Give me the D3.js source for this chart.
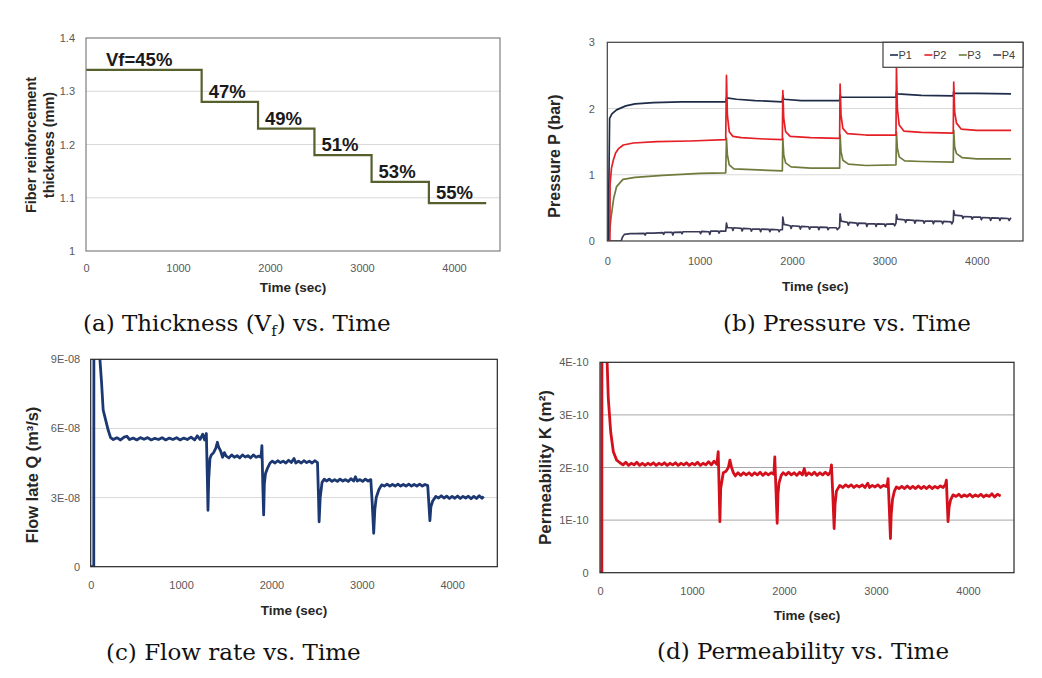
<!DOCTYPE html>
<html><head><meta charset="utf-8">
<script src="https://cdn.jsdelivr.net/npm/d3@7"></script>
<style>
body{margin:0;background:#fff}
svg{display:block}
</style>
</head><body>
<svg id="chart" width="1042" height="678"></svg>
<script>
// ---------------- DATA ----------------
const timeTicks = [0, 1000, 2000, 3000, 4000];

// (a) thickness steps
const stepStart = [0, 1257, 1870, 2483, 3104, 3727];
const stepEnd = 4350;
const thickness = [1.34, 1.28, 1.23, 1.18, 1.13, 1.09];
const vfLabels = ["Vf=45%", "47%", "49%", "51%", "53%", "55%"];
const thickTicks = [1, 1.1, 1.2, 1.3, 1.4];
const thickTickLabels = ["1", "1.1", "1.2", "1.3", "1.4"];

// (b) pressure (bar): [time, value]
const pressureNames = ["P1", "P2", "P3", "P4"];
const p1 = [[0,0],[10,0],[25,1.85],[50,1.92],[100,1.98],[200,2.04],[300,2.07],[500,2.09],[800,2.1],[1000,2.1],[1282,2.1],[1290,2.16],[1400,2.14],[1600,2.12],[1895,2.1],[1900,2.2],[1910,2.14],[2100,2.12],[2515,2.12],[2520,2.2],[2530,2.17],[2800,2.17],[3125,2.17],[3130,2.25],[3140,2.22],[3400,2.2],[3745,2.19],[3750,2.26],[3760,2.23],[4000,2.23],[4370,2.22]];
const p2 = [[0,0],[28,0],[30,0.85],[45,1.1],[65,1.22],[90,1.33],[119,1.39],[173,1.45],[282,1.48],[535,1.5],[900,1.51],[1282,1.53],[1290,2.5],[1300,1.9],[1320,1.65],[1360,1.58],[1450,1.56],[1700,1.54],[1895,1.53],[1900,2.27],[1910,1.85],[1930,1.65],[1980,1.58],[2200,1.56],[2515,1.55],[2520,2.37],[2530,1.9],[2550,1.7],[2600,1.62],[2800,1.6],[3125,1.6],[3130,2.62],[3140,2.0],[3160,1.75],[3210,1.66],[3400,1.64],[3745,1.63],[3750,2.4],[3760,1.95],[3780,1.78],[3830,1.69],[4000,1.67],[4370,1.67]];
const p3 = [[0,0],[15,0],[40,0.35],[70,0.65],[100,0.82],[170,0.93],[300,0.96],[600,0.99],[1000,1.02],[1282,1.03],[1290,1.55],[1300,1.3],[1320,1.15],[1370,1.09],[1500,1.08],[1895,1.06],[1900,1.55],[1910,1.3],[1930,1.18],[1990,1.12],[2200,1.1],[2515,1.1],[2520,1.6],[2530,1.35],[2550,1.22],[2610,1.16],[2800,1.14],[3125,1.15],[3130,1.64],[3140,1.4],[3160,1.27],[3220,1.21],[3400,1.2],[3745,1.19],[3750,1.67],[3760,1.42],[3780,1.32],[3840,1.26],[4000,1.24],[4370,1.24]];
const p4 = [[0,0],[150,0],[165,0.06],[185,0.1],[250,0.11],[300,0.11],[400,0.115],[410,0.09],[420,0.12],[500,0.12],[600,0.125],[610,0.1],[620,0.13],[700,0.13],[710,0.09],[720,0.13],[800,0.135],[810,0.11],[820,0.14],[900,0.14],[1000,0.14],[1010,0.11],[1020,0.145],[1100,0.14],[1110,0.1],[1120,0.15],[1200,0.15],[1210,0.12],[1220,0.15],[1282,0.15],[1290,0.27],[1300,0.2],[1350,0.2],[1360,0.16],[1370,0.2],[1450,0.19],[1460,0.15],[1470,0.19],[1550,0.185],[1560,0.15],[1570,0.18],[1650,0.18],[1660,0.14],[1670,0.18],[1750,0.175],[1760,0.14],[1770,0.175],[1850,0.17],[1860,0.14],[1870,0.17],[1895,0.17],[1900,0.36],[1912,0.25],[1980,0.23],[1990,0.19],[2000,0.23],[2080,0.22],[2090,0.18],[2100,0.22],[2180,0.215],[2190,0.18],[2200,0.21],[2280,0.21],[2290,0.17],[2300,0.21],[2380,0.205],[2390,0.17],[2400,0.2],[2480,0.2],[2490,0.17],[2515,0.21],[2520,0.41],[2532,0.3],[2600,0.28],[2610,0.24],[2620,0.28],[2700,0.27],[2710,0.23],[2720,0.27],[2800,0.265],[2810,0.22],[2820,0.26],[2900,0.26],[2910,0.22],[2920,0.26],[3000,0.255],[3010,0.22],[3020,0.255],[3100,0.26],[3110,0.23],[3125,0.27],[3130,0.4],[3142,0.33],[3220,0.32],[3230,0.28],[3240,0.32],[3320,0.31],[3330,0.27],[3340,0.31],[3420,0.305],[3430,0.27],[3440,0.3],[3520,0.3],[3530,0.26],[3540,0.3],[3620,0.295],[3630,0.26],[3640,0.295],[3720,0.29],[3730,0.26],[3745,0.3],[3750,0.46],[3760,0.39],[3840,0.38],[3850,0.34],[3860,0.37],[3940,0.365],[3950,0.33],[3960,0.36],[4040,0.36],[4050,0.32],[4060,0.355],[4140,0.35],[4150,0.31],[4160,0.35],[4240,0.345],[4250,0.31],[4260,0.345],[4340,0.34],[4350,0.31],[4370,0.35]];
const pressureTicks = [0, 1, 2, 3];
const pressureTickLabels = ["0", "1", "2", "3"];

// (c) flow rate, in units of 1E-08 m3/s: [time, value]
const flowRate = [[0,0],[34,0],[36,14],[100,14],[102,9.0],[120,8.0],[138,6.8],[157,6.5],[193,5.93],[220,5.6],[250,5.52],[290,5.6],[330,5.5],[370,5.62],[400,5.66],[430,5.52],[470,5.58],[510,5.5],[550,5.6],[590,5.53],[630,5.6],[670,5.5],[710,5.57],[750,5.52],[790,5.6],[830,5.5],[870,5.58],[910,5.52],[950,5.6],[990,5.5],[1030,5.58],[1070,5.52],[1110,5.62],[1150,5.5],[1180,5.68],[1210,5.52],[1240,5.75],[1260,5.5],[1280,5.78],[1290,4.0],[1298,2.45],[1306,3.8],[1320,4.7],[1335,4.85],[1360,4.95],[1385,5.15],[1402,5.4],[1415,5.2],[1440,5.0],[1460,4.75],[1480,4.95],[1500,4.8],[1530,4.72],[1560,4.85],[1590,4.75],[1620,4.82],[1650,4.72],[1680,4.85],[1710,4.76],[1740,4.82],[1770,4.72],[1800,4.85],[1830,4.75],[1860,4.8],[1885,4.75],[1895,5.25],[1905,3.5],[1914,2.25],[1922,3.6],[1935,4.05],[1960,4.3],[1985,4.5],[2010,4.58],[2040,4.5],[2070,4.6],[2100,4.52],[2130,4.58],[2160,4.5],[2190,4.62],[2220,4.52],[2250,4.7],[2270,4.5],[2300,4.58],[2330,4.5],[2360,4.6],[2390,4.52],[2420,4.58],[2450,4.5],[2480,4.6],[2510,4.52],[2520,3.2],[2528,1.95],[2540,3.0],[2560,3.65],[2585,3.8],[2610,3.72],[2640,3.8],[2670,3.7],[2700,3.78],[2730,3.7],[2760,3.8],[2790,3.72],[2820,3.78],[2850,3.7],[2880,3.82],[2910,3.72],[2930,3.9],[2950,3.72],[2980,3.78],[3010,3.7],[3040,3.8],[3070,3.72],[3100,3.78],[3115,2.8],[3132,1.45],[3145,2.5],[3160,3.0],[3190,3.35],[3220,3.55],[3250,3.5],[3280,3.58],[3310,3.5],[3340,3.57],[3370,3.5],[3400,3.58],[3430,3.5],[3460,3.57],[3490,3.5],[3520,3.58],[3550,3.5],[3580,3.57],[3610,3.5],[3640,3.58],[3670,3.5],[3700,3.57],[3730,3.52],[3740,2.9],[3754,2.0],[3765,2.6],[3785,2.85],[3820,3.05],[3850,2.98],[3880,3.08],[3910,2.98],[3940,3.06],[3970,2.96],[4000,3.05],[4030,2.97],[4060,3.07],[4090,2.96],[4120,3.05],[4150,2.98],[4180,3.06],[4210,2.95],[4240,3.05],[4270,2.96],[4300,3.08],[4330,2.97],[4350,3.05]];
const flowTicks = [0, 3, 6, 9];
const flowTickLabels = ["0", "3E-08", "6E-08", "9E-08"];

// (d) permeability, in units of 1E-10 m2: [time, value]
const permeability = [[0,0],[20,0],[22,8],[72,8],[74,4.2],[90,3.32],[116,2.68],[145,2.3],[181,2.14],[217,2.09],[250,2.05],[280,2.1],[310,2.04],[340,2.08],[370,2.05],[400,2.1],[430,2.04],[460,2.08],[490,2.04],[520,2.08],[550,2.05],[580,2.09],[610,2.04],[640,2.08],[670,2.05],[700,2.09],[730,2.04],[760,2.08],[790,2.05],[820,2.09],[850,2.04],[880,2.08],[910,2.05],[940,2.09],[970,2.04],[1000,2.08],[1030,2.05],[1060,2.1],[1090,2.04],[1120,2.08],[1150,2.05],[1180,2.11],[1210,2.05],[1240,2.12],[1270,2.06],[1285,2.3],[1295,1.6],[1303,0.97],[1312,1.6],[1340,1.9],[1370,1.93],[1395,2.0],[1412,2.14],[1430,2.0],[1450,1.9],[1470,1.84],[1500,1.9],[1530,1.85],[1560,1.9],[1590,1.86],[1620,1.9],[1650,1.85],[1680,1.9],[1710,1.86],[1740,1.91],[1770,1.85],[1800,1.9],[1830,1.86],[1860,1.9],[1890,1.87],[1900,2.2],[1912,1.6],[1926,0.94],[1935,1.5],[1945,1.7],[1970,1.85],[1990,1.9],[2020,1.86],[2050,1.91],[2080,1.86],[2110,1.9],[2140,1.85],[2170,1.91],[2200,1.86],[2220,1.98],[2240,1.85],[2270,1.9],[2300,1.86],[2330,1.91],[2360,1.85],[2390,1.9],[2420,1.86],[2450,1.91],[2480,1.86],[2505,1.92],[2516,2.05],[2530,1.5],[2545,0.84],[2555,1.3],[2570,1.55],[2606,1.66],[2640,1.62],[2670,1.67],[2700,1.63],[2730,1.67],[2760,1.62],[2790,1.66],[2820,1.63],[2850,1.67],[2880,1.62],[2910,1.7],[2930,1.62],[2960,1.66],[2990,1.63],[3020,1.67],[3050,1.62],[3080,1.66],[3110,1.64],[3125,1.7],[3131,1.79],[3145,1.2],[3157,0.65],[3165,1.1],[3180,1.4],[3200,1.55],[3222,1.63],[3250,1.6],[3280,1.64],[3310,1.6],[3340,1.65],[3370,1.6],[3400,1.64],[3430,1.6],[3460,1.65],[3490,1.6],[3520,1.64],[3550,1.6],[3580,1.65],[3610,1.6],[3640,1.64],[3670,1.61],[3700,1.65],[3730,1.62],[3755,1.68],[3765,1.76],[3775,1.3],[3783,0.97],[3795,1.25],[3810,1.38],[3837,1.48],[3870,1.45],[3900,1.49],[3930,1.44],[3960,1.48],[3990,1.45],[4020,1.49],[4050,1.44],[4080,1.48],[4110,1.45],[4140,1.49],[4170,1.44],[4200,1.48],[4230,1.45],[4260,1.5],[4290,1.44],[4320,1.49],[4355,1.46]];
const permTicks = [0, 1, 2, 3, 4];
const permTickLabels = ["0", "1E-10", "2E-10", "3E-10", "4E-10"];

// ---------------- DRAWING ----------------
const SANS = "'Liberation Sans', Arial, sans-serif";
const SERIF = "'DejaVu Serif', serif";
const svg = d3.select("#chart");
const defs = svg.append("defs");

function makePanel(o) {
  const x = d3.scaleLinear().domain([0, 4500]).range([o.l, o.r]);
  const y = d3.scaleLinear().domain(o.yDomain).range([o.b, o.t]);
  const g = svg.append("g");
  g.append("g").selectAll("line").data(o.grid).join("line")
    .attr("x1", o.l).attr("x2", o.r)
    .attr("y1", d => y(d)).attr("y2", d => y(d))
    .attr("stroke", o.gridColor).attr("stroke-width", 1);
  const xa = g.append("g").attr("transform", `translate(0,${o.b})`)
    .call(d3.axisBottom(x).tickValues(timeTicks).tickSize(0).tickPadding(o.xPad).tickFormat(d3.format("d")));
  const ya = g.append("g").attr("transform", `translate(${o.l},0)`)
    .call(d3.axisLeft(y).tickValues(o.yTicks).tickSize(0).tickPadding(o.yPad)
      .tickFormat(d => o.yLabels[o.yTicks.indexOf(d)]));
  [xa, ya].forEach(a => {
    a.select(".domain").remove();
    a.attr("font-family", SANS).attr("font-size", 11);
    a.selectAll("text").attr("fill", "#595959");
  });
  defs.append("clipPath").attr("id", "clip-" + o.name)
    .append("rect").attr("x", o.l).attr("y", o.t).attr("width", o.r - o.l).attr("height", o.b - o.t);
  const plot = g.append("g").attr("clip-path", `url(#clip-${o.name})`);
  const finish = () => {
    g.append("rect").attr("x", o.l).attr("y", o.t).attr("width", o.r - o.l).attr("height", o.b - o.t)
      .attr("fill", "none").attr("stroke", o.borderColor).attr("stroke-width", 1.2);
    g.append("text").attr("x", (o.l + o.r) / 2 + o.xtDx).attr("y", o.xtY)
      .attr("text-anchor", "middle").attr("dominant-baseline", "central")
      .attr("font-family", SANS).attr("font-weight", "bold").attr("font-size", 13.5)
      .attr("fill", "#262626").text("Time (sec)");
    o.yTitle.forEach((line, i) => {
      g.append("text").attr("transform", `translate(${o.ytX[i]},${o.ytY}) rotate(-90)`)
        .attr("text-anchor", "middle").attr("dominant-baseline", "central")
        .attr("font-family", SANS).attr("font-weight", "bold").attr("font-size", o.ytSize)
        .attr("fill", "#262626").text(line);
    });
  };
  return { x, y, g, plot, finish };
}

function caption(xp, yp, parts) {
  const t = svg.append("text").attr("x", xp).attr("y", yp)
    .attr("font-family", SERIF).attr("font-size", 23).attr("fill", "#111");
  parts.forEach(p => {
    const s = t.append("tspan").text(p.t);
    if (p.sub) s.attr("font-size", 15).attr("dy", 5);
    if (p.up) s.attr("dy", -5);
  });
}

// ---- (a) thickness ----
{
  const P = makePanel({ name: "a", l: 86, r: 500, t: 38, b: 251, yDomain: [1, 1.4],
    yTicks: thickTicks, yLabels: thickTickLabels, grid: [1.1, 1.2, 1.3], gridColor: "#d9d9d9",
    borderColor: "#7f7f7f", xPad: 13, yPad: 11, xtDx: 0, xtY: 287,
    yTitle: ["Fiber reinforcement", "thickness (mm)"], ytX: [30.5, 48.5], ytY: 145, ytSize: 14.5 });
  const pts = stepStart.map((s, i) => [s, thickness[i]]).concat([[stepEnd, thickness[thickness.length - 1]]]);
  P.plot.append("path").datum(pts)
    .attr("d", d3.line().x(d => P.x(d[0])).y(d => P.y(d[1])).curve(d3.curveStepAfter))
    .attr("fill", "none").attr("stroke", "#55602c").attr("stroke-width", 2.2);
  P.g.selectAll("text.vf").data(vfLabels).join("text").attr("class", "vf")
    .attr("x", (d, i) => P.x(stepStart[i]) + (i === 0 ? 20 : 7))
    .attr("y", (d, i) => P.y(thickness[i]) - 4)
    .attr("font-family", SANS).attr("font-weight", "bold").attr("font-size", 18.5)
    .attr("fill", "#1a1a1a").text(d => d);
  P.finish();
}

// ---- (b) pressure ----
{
  const P = makePanel({ name: "b", l: 607.3, r: 1023, t: 42.3, b: 241, yDomain: [0, 3],
    yTicks: pressureTicks, yLabels: pressureTickLabels, grid: [1, 2], gridColor: "#d9d9d9",
    borderColor: "#404040", xPad: 16, yPad: 12.5, xtDx: 0, xtY: 286,
    yTitle: ["Pressure P (bar)"], ytX: [554], ytY: 156, ytSize: 16 });
  const series = [p1, p2, p3, p4];
  const colors = ["#1f2c48", "#e51f26", "#6e7b3c", "#3a3a58"];
  const line = d3.line().x(d => P.x(d[0])).y(d => P.y(d[1]));
  [3, 2, 0, 1].forEach(i => {
    P.plot.append("path").datum(series[i]).attr("d", line)
      .attr("fill", "none").attr("stroke", colors[i]).attr("stroke-width", 1.7)
      .attr("stroke-linejoin", "round");
  });
  P.finish();
  const lg = P.g.append("g");
  lg.append("rect").attr("x", 883).attr("y", 42.3).attr("width", 140).attr("height", 25)
    .attr("fill", "#fff").attr("stroke", "#404040").attr("stroke-width", 1.2);
  pressureNames.forEach((n, i) => {
    const x0 = 890 + i * 34.4;
    lg.append("line").attr("x1", x0).attr("x2", x0 + 8).attr("y1", 55).attr("y2", 55)
      .attr("stroke", colors[i]).attr("stroke-width", 1.6);
    lg.append("text").attr("x", x0 + 8.5).attr("y", 55).attr("dominant-baseline", "central")
      .attr("font-family", SANS).attr("font-size", 11).attr("fill", "#404040").text(n);
  });
}

// ---- (c) flow rate ----
{
  const P = makePanel({ name: "c", l: 90.7, r: 497.3, t: 359.3, b: 566.7, yDomain: [0, 9],
    yTicks: flowTicks, yLabels: flowTickLabels, grid: [3, 6], gridColor: "#d9d9d9",
    borderColor: "#262626", xPad: 15, yPad: 10.5, xtDx: 0, xtY: 610,
    yTitle: ["Flow late Q (m³/s)"], ytX: [31.7], ytY: 475, ytSize: 16.4 });
  P.plot.append("path").datum(flowRate)
    .attr("d", d3.line().x(d => P.x(d[0])).y(d => P.y(d[1])))
    .attr("fill", "none").attr("stroke", "#1c3872").attr("stroke-width", 2.8)
    .attr("stroke-linejoin", "round");
  P.finish();
}

// ---- (d) permeability ----
{
  const P = makePanel({ name: "d", l: 600, r: 1014, t: 362.3, b: 572.7, yDomain: [0, 4],
    yTicks: permTicks, yLabels: permTickLabels, grid: [1, 2, 3], gridColor: "#a6a6a6",
    borderColor: "#262626", xPad: 15, yPad: 11.5, xtDx: 0, xtY: 615.5,
    yTitle: ["Permeability K (m²)"], ytX: [545.3], ytY: 467.5, ytSize: 17 });
  P.plot.append("path").datum(permeability)
    .attr("d", d3.line().x(d => P.x(d[0])).y(d => P.y(d[1])))
    .attr("fill", "none").attr("stroke", "#d4101c").attr("stroke-width", 2.8)
    .attr("stroke-linejoin", "round");
  P.finish();
}

// ---- captions ----
caption(83, 331, [{ t: "(a) Thickness (V" }, { t: "f", sub: true }, { t: ") vs. Time", up: true }]);
caption(723, 331, [{ t: "(b) Pressure vs. Time" }]);
caption(106, 660, [{ t: "(c) Flow rate vs. Time" }]);
caption(657, 659, [{ t: "(d) Permeability vs. Time" }]);
</script>
</body></html>
